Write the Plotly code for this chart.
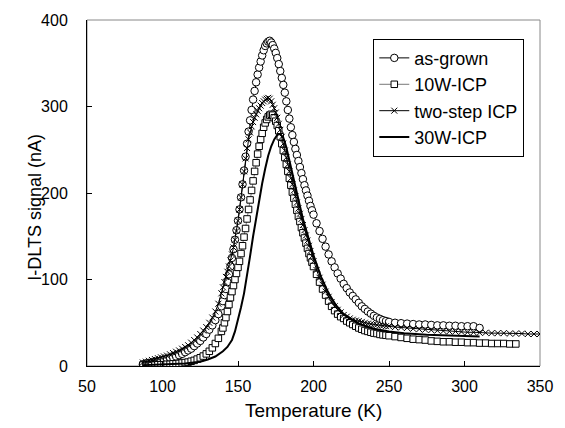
import plotly.graph_objects as go

# Shared temperature grid (K)
T_grid = [87, 89, 91, 93, 95, 97, 99, 101, 103, 105, 107, 109, 111, 113, 115, 117, 119, 121, 123, 125,
          127, 129, 131, 133, 135, 137, 139,
          140, 141, 142, 143, 144, 145, 146, 147, 148, 149, 150, 151, 152, 153, 154, 155, 156, 157, 158, 159,
          160, 161, 162, 163, 164, 165, 166, 167, 168, 169, 170, 171, 172, 173, 174, 175, 176, 177, 178, 179,
          180, 181, 182, 183, 184, 185, 186, 187, 188, 189, 190, 191, 192, 193, 194, 195, 196, 197, 198, 199, 200,
          202, 204, 206, 208, 210, 212, 214, 216, 218, 220, 222, 224, 226, 228, 230, 232, 234, 236, 238, 240,
          242, 244, 246, 248, 250,
          254, 258, 262, 266, 270, 274, 278, 282, 286, 290, 294, 298, 302, 306, 310, 314, 318, 322, 326, 330,
          334, 338, 342, 346, 350]

as_grown = [2, 3, 3.5, 4, 5, 5.5, 6, 7, 8, 9, 10, 11, 12.5, 14, 16, 18, 20, 23, 26, 29,
            33, 37, 42, 47, 53, 60, 69,
            75, 82, 89, 97, 106, 115, 125, 135, 146, 157, 168, 181, 195, 210, 226, 242, 257, 271, 284, 296,
            308, 318, 328, 337, 345, 352, 359, 365, 370, 373, 375, 376, 374, 371, 367, 362, 356, 349, 341, 333,
            325, 316, 306, 296, 286, 276, 267, 259, 251, 244, 237, 230, 223, 216, 209, 203, 197, 191, 185, 180, 175,
            165, 156, 147, 138, 129, 121, 114, 107, 101, 95, 90, 85, 81, 77, 73, 69, 66, 63, 60.5, 58,
            56, 54.5, 53, 52, 51,
            50, 49.5, 49, 48.5, 48, 48, 47.5, 47, 47, 46.5, 46.5, 46, 46, 46, 44]

w10_icp = [1, 1, 1, 1, 1, 1.5, 1.5, 1.5, 2, 2, 2.5, 2.5, 3, 3.5, 4, 4.5, 5.5, 6.5, 8, 9.5,
           11.5, 14, 17, 21, 26, 32, 40,
           44, 50, 56, 63, 71, 79, 86, 93, 100, 107, 114, 121, 130, 139, 149, 159, 170, 181, 192, 203,
           214, 225, 235, 245, 254, 262, 269, 276, 281, 285, 288, 290, 291, 290, 287, 283, 278, 272, 265, 257,
           249, 241, 233, 225, 217, 209, 201, 194, 187, 180, 173, 167, 160, 154, 148, 142, 136, 130, 125, 120, 115,
           106, 97, 89, 82, 75, 69, 64, 60, 57, 55, 52, 50, 48, 46, 44, 42.5, 41, 40, 39, 38,
           37.5, 36.5, 36, 35.5, 35,
           34, 33, 32, 31, 30.5, 30, 29, 28.5, 28, 28, 27.5, 27.5, 27, 27, 26.5, 26.5, 26, 26, 26, 25.5,
           25.5]

two_step = [4, 5, 6, 7, 8, 9, 10, 11, 12, 13.5, 15, 16.5, 18, 20, 22, 24, 27, 30, 33, 37,
            41, 45, 50, 56, 63, 72, 84,
            91, 97, 103, 109, 115, 122, 129, 137, 146, 156, 168, 181, 195, 210, 225, 240, 252, 262, 270, 277,
            282, 287, 291, 295, 298, 301, 304, 306, 308, 309, 310, 309, 306, 302, 298, 293, 287, 280, 273, 265,
            257, 249, 241, 233, 225, 217, 210, 203, 196, 189, 182, 176, 170, 163, 157, 151, 145, 139, 133, 127, 121,
            111, 102, 94, 86, 80, 74, 69, 65, 62, 59, 57, 55, 53.5, 52.5, 52, 51, 50, 49, 48.5, 48,
            47.5, 47, 46.5, 46, 46,
            45, 44.5, 44, 43, 42.5, 42, 41.5, 41, 40.5, 40, 40, 39.5, 39, 39, 38.5, 38.5, 38, 38, 38, 37.5,
            37.5, 37.5, 37, 37, 37]

# 30W-ICP (solid line) on its own temperature list
T_30w = [87, 95, 105, 115, 125, 130, 135, 140, 143, 146, 148, 150, 152, 154, 156, 158, 160, 162, 164, 166,
         168, 170, 172, 174, 176, 177, 178, 180, 182, 184, 186, 188, 190, 193, 196, 200, 205, 210, 215, 220,
         230, 240, 250, 260, 275, 290, 310]
w30_icp = [1, 1.5, 2, 3, 5, 7.5, 11, 17, 22, 30, 40, 53, 68, 84, 104, 127, 150, 172, 193, 211,
           228, 243, 254, 262, 267, 268, 268, 264, 253, 238, 222, 206, 190, 170, 152, 128, 103, 84, 70, 60,
           49, 43, 40, 38, 36, 35, 34]

fig = go.Figure()
fig.add_trace(go.Scatter(
    x=T_grid[:len(as_grown)], y=as_grown, name="as-grown", mode="lines+markers",
    line=dict(color="black", width=1),
    marker=dict(symbol="circle", size=7.5, color="white", line=dict(color="black", width=1))))
fig.add_trace(go.Scatter(
    x=T_grid[:len(w10_icp)], y=w10_icp, name="10W-ICP", mode="lines+markers",
    line=dict(color="#777777", width=1),
    marker=dict(symbol="square", size=6.5, color="white", line=dict(color="black", width=1))))
fig.add_trace(go.Scatter(
    x=T_grid[:len(two_step)], y=two_step, name="two-step ICP", mode="lines+markers",
    line=dict(color="black", width=1),
    marker=dict(symbol="x-thin", size=6, color="black", line=dict(color="black", width=1))))
fig.add_trace(go.Scatter(
    x=T_30w, y=w30_icp, name="30W-ICP", mode="lines",
    line=dict(color="black", width=2)))

fig.update_layout(
    width=565, height=428,
    margin=dict(l=87, r=23, t=14, b=62),
    paper_bgcolor="white", plot_bgcolor="white",
    font=dict(family="Liberation Sans, Arial, sans-serif", color="black", size=16),
    showlegend=True,
    legend=dict(x=0.632, y=0.946, xanchor="left", yanchor="top",
                bordercolor="black", borderwidth=1, bgcolor="white",
                font=dict(size=18), tracegroupgap=0, itemwidth=30),
    shapes=[dict(type="rect", xref="paper", yref="paper", x0=0, y0=0, x1=1, y1=1,
                 line=dict(color="#888888", width=1), layer="below")],
    annotations=[
        dict(text="Temperature (K)", xref="paper", yref="paper", x=0.5, y=-0.128,
             xanchor="center", yanchor="middle", showarrow=False, font=dict(size=19)),
        dict(text="I-DLTS signal (nA)", xref="paper", yref="paper", x=-0.115, y=0.46,
             xanchor="center", yanchor="middle", showarrow=False, textangle=-90, font=dict(size=18)),
    ],
)
fig.update_xaxes(range=[50, 350], dtick=50, tick0=50, showgrid=False, zeroline=False,
                 showline=True, linecolor="black", linewidth=1,
                 ticks="inside", ticklen=5, tickcolor="black", ticklabelstandoff=6,
                 tickfont=dict(size=16))
fig.update_yaxes(range=[0, 400], dtick=100, tick0=0, showgrid=False, zeroline=False,
                 showline=True, linecolor="black", linewidth=1,
                 ticks="inside", ticklen=5, tickcolor="black", ticklabelstandoff=15,
                 tickfont=dict(size=16))

fig.write_html("out.html")
